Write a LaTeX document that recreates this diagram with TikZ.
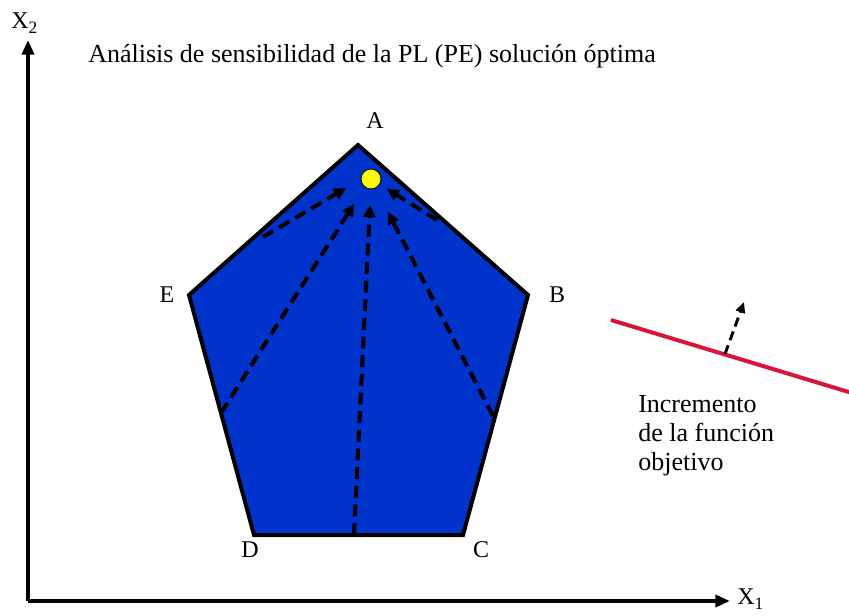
\documentclass[tikz,border=0pt]{standalone}
\usepackage{fontspec}
\setmainfont{Liberation Serif}
\usetikzlibrary{arrows.meta}
\definecolor{fondo}{RGB}{0,51,204}
\definecolor{rojo}{RGB}{220,20,60}
\definecolor{amarillo}{RGB}{255,255,0}
\tikzset{
  eje/.style={line width=3pt, -{Triangle[length=11pt, width=9pt]}},
  ruta/.style={line width=3pt, dash pattern=on 9pt off 5pt, -{Triangle[length=9pt, width=9pt]}},
  etiqueta/.style={font=\fontsize{18}{21}\selectfont, inner sep=0pt},
}
\newcommand{\subind}[1]{\raisebox{-4pt}{\fontsize{13}{15}\selectfont #1}}
\begin{document}
\begin{tikzpicture}[x=0.75pt, y=-0.75pt]
  \useasboundingbox (0,0) rectangle (849,615);
  % ejes
  \coordinate (O) at (28,601);
  \coordinate (x1fin) at (730,601);
  \coordinate (x2fin) at (28,40);
  \draw[eje] (O) -- (x1fin);
  \draw[eje] (O.center) -- (x2fin);
  \node[etiqueta, anchor=base west] (x1) at (737,604) {X\subind{1}};
  \node[etiqueta, anchor=base west] (x2) at (11,28) {X\subind{2}};
  \node[font=\fontsize{19.5}{23}\selectfont, anchor=base west, inner sep=0pt] (titulo) at (88,62)
    {Análisis de sensibilidad de la PL (PE) solución óptima};
  % region factible
  \coordinate (A) at (358,145);
  \coordinate (B) at (528,295);
  \coordinate (C) at (463,535);
  \coordinate (D) at (254,535);
  \coordinate (E) at (189,295);
  \filldraw[fill=fondo, line width=3pt, line join=miter] (A) -- (B) -- (C) -- (D) -- (E) -- cycle;
  \node[etiqueta] (lA) at (375,121) {A};
  \node[etiqueta] (lB) at (557,295) {B};
  \node[etiqueta] (lC) at (481,550) {C};
  \node[etiqueta] (lD) at (250,550) {D};
  \node[etiqueta] (lE) at (167,295) {E};
  % solucion optima
  \node[circle, fill=amarillo, draw=black, line width=0.6pt, minimum size=15pt, inner sep=0pt] (opt) at (371,179) {};
  % recorridos
  \coordinate (p1) at (263,237);  \coordinate (q1) at (346,188);
  \coordinate (p2) at (437,220);  \coordinate (q2) at (387,189);
  \coordinate (p3) at (221,413);  \coordinate (q3) at (354,204);
  \coordinate (p4) at (354,535);  \coordinate (q4) at (370,205);
  \coordinate (p5) at (493,416);  \coordinate (q5) at (388,212);
  \foreach \i in {1,...,5}
    \draw[ruta] (p\i) -- (q\i);
  % funcion objetivo
  \coordinate (r1) at (611,320);
  \coordinate (r2) at (852,393);
  \draw[rojo, line width=3pt] (r1) -- (r2);
  \coordinate (s1) at (725,354);
  \coordinate (s2) at (744,302);
  \draw[line width=2.2pt, dash pattern=on 7pt off 4pt, -{Triangle[length=8pt, width=7pt]}] (s1) -- (s2);
  \node[font=\fontsize{19.5}{21.75}\selectfont, align=left, anchor=base west, inner sep=0pt] (incremento) at (638,470)
    {Incremento\\de la función\\objetivo};
\end{tikzpicture}
\end{document}
